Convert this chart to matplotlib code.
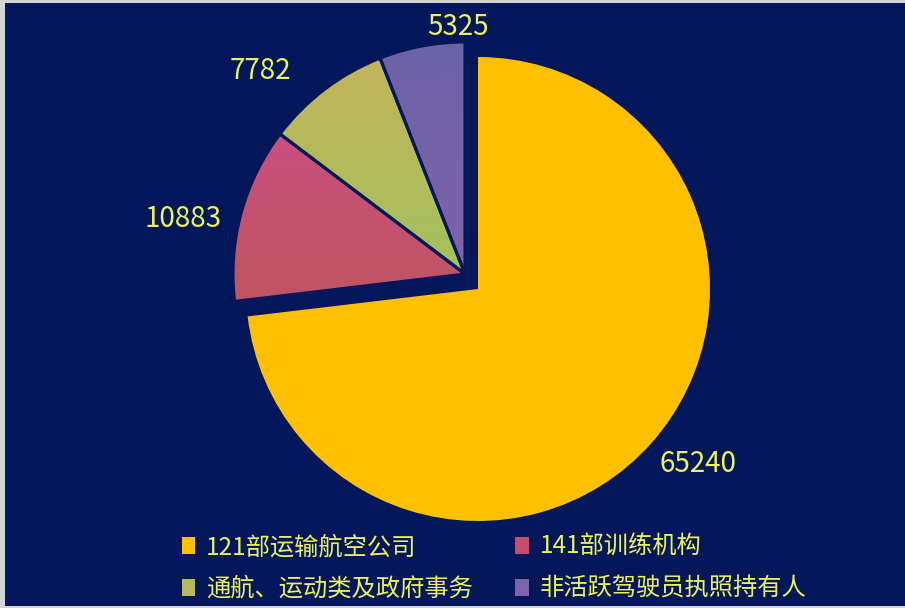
"""Pie chart of pilot licence holders by organisation type."""

import matplotlib.pyplot as plt
import matplotlib.colors as mcolors
from matplotlib.patches import Patch
import numpy as np

plt.rcParams["font.family"] = ["Noto Sans CJK SC", "DejaVu Sans"]

categories = ["121部运输航空公司", "141部训练机构", "通航、运动类及政府事务", "非活跃驾驶员执照持有人"]
counts = [65240, 10883, 7782, 5325]

# fill colours (solid for the big slice, top/bottom gradient for the others)
colors = ["#FFC000", "#C4506C", "#B4B85A", "#7563A8"]
grad_top = [None, "#CA4F80", "#C3B45A", "#6C63A8"]
grad_bottom = [None, "#BF5560", "#A3C15E", "#7E62A8"]

BG = "#03175A"
TEXT = "#EEF25A"
W, H = 905, 608

fig = plt.figure(figsize=(W / 100, H / 100), dpi=100)
fig.patch.set_facecolor("#D3D3D3")
ax = fig.add_axes([5 / W, 2 / H, 900 / W, 603 / H])

center = (478, H - 289)
radius = 232
wedges, _ = ax.pie(
    counts,
    colors=colors,
    startangle=90,
    counterclock=False,
    center=center,
    radius=radius,
    wedgeprops=dict(linewidth=0),
)

# the three small slices are pulled out together, up and to the left
shift = np.array([-13.0, 15.0])
for w in wedges[1:]:
    w.set_center(tuple(np.array(w.center) + shift))

t = np.linspace(0, 1, 256)[:, None]
for w, top, bot in zip(wedges[1:], grad_top[1:], grad_bottom[1:]):
    ext = w.get_path().get_extents()
    c0 = np.array(mcolors.to_rgb(top))
    c1 = np.array(mcolors.to_rgb(bot))
    img = (c0 * (1 - t) + c1 * t)[:, None, :]
    im = ax.imshow(
        img,
        extent=(ext.x0, ext.x1, ext.y0, ext.y1),
        origin="upper",
        aspect="auto",
        interpolation="bilinear",
        zorder=w.get_zorder() - 0.1,
    )
    im.set_clip_path(w)
    w.set_facecolor("none")
    w.set_edgecolor(BG)
    w.set_linewidth(2.2)

# value labels just outside each slice
nudges = [(1, 1), (-10, -8), (-28, -5), (38, -6)]
for w, val, (nx, ny) in zip(wedges, counts, nudges):
    theta = np.deg2rad((w.theta1 + w.theta2) / 2)
    cx, cy = w.center
    dx, dy = np.cos(theta), np.sin(theta)
    x = cx + (radius + 10) * dx + nx
    y = cy + (radius + 10) * dy + ny
    ha = "left" if dx > 0.3 else "right" if dx < -0.3 else "center"
    va = "bottom" if dy > 0.3 else "top" if dy < -0.3 else "center"
    ax.text(x, y, f"{val}", ha=ha, va=va, color=TEXT, fontsize=20)

ax.set_frame_on(True)
ax.set_facecolor(BG)
for s in ax.spines.values():
    s.set_visible(False)
ax.set_xticks([])
ax.set_yticks([])
ax.set_xlim(5, W)
ax.set_ylim(2, H - 3)
ax.set_aspect("auto")

handles = [Patch(facecolor=c, edgecolor="none") for c in ["#FFC000", "#C44E6A", "#B6BA5C", "#7B64AA"]]
order = [0, 2, 1, 3]
fig.legend(
    [handles[i] for i in order],
    [categories[i] for i in order],
    ncol=2,
    loc="center",
    bbox_to_anchor=(494 / W, 1 - 568 / H),
    frameon=False,
    labelcolor=TEXT,
    fontsize=17.5,
    handlelength=0.55,
    handleheight=0.7,
    handletextpad=0.45,
    columnspacing=1.75,
    labelspacing=0.65,
    borderpad=0,
    borderaxespad=0,
)

fig.savefig("out.png", dpi=100, facecolor=fig.get_facecolor())
